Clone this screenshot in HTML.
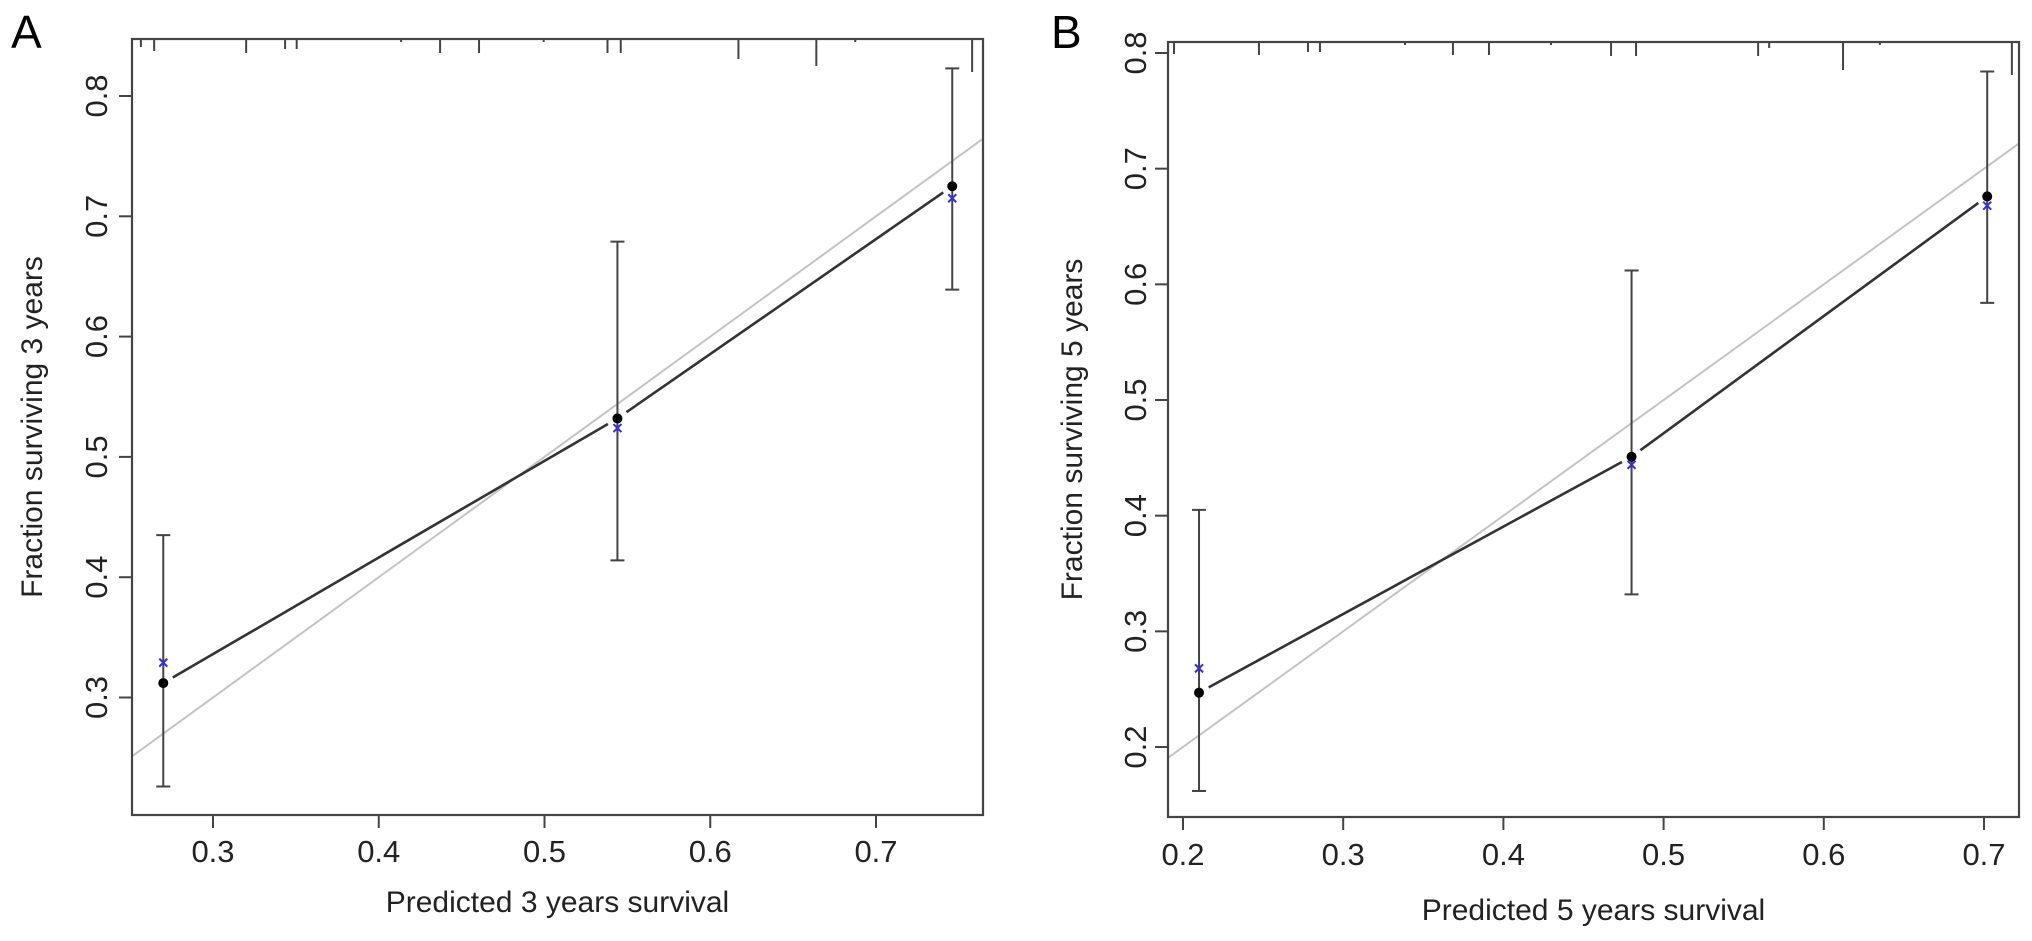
<!DOCTYPE html>
<html><head><meta charset="utf-8"><style>
html,body{margin:0;padding:0;background:#fff;}
svg{display:block;font-family:"Liberation Sans",sans-serif;}
</style></head><body>
<svg id="chart" width="2032" height="941" viewBox="0 0 2032 941" xmlns="http://www.w3.org/2000/svg"></svg>
<script>
// Panel A data (3-year)
const aPredicted = [0.270, 0.544, 0.746];
const aObserved = [0.312, 0.532, 0.725];
const aCorrected = [0.329, 0.524, 0.715];
const aCiLow = [0.226, 0.414, 0.639];
const aCiHigh = [0.435, 0.679, 0.823];
const aRug = [0.2565, 0.2645, 0.320, 0.3435, 0.3505, 0.4135, 0.437, 0.4605, 0.4995, 0.538, 0.546, 0.617, 0.664, 0.6875, 0.758];
const aRugLen = [8, 12, 14, 10, 10, 3, 14, 14, 3, 14, 14, 20, 27, 3, 33];
const aXTicks = [0.3, 0.4, 0.5, 0.6, 0.7];
const aYTicks = [0.3, 0.4, 0.5, 0.6, 0.7, 0.8];
// Panel B data (5-year)
const bPredicted = [0.210, 0.480, 0.702];
const bObserved = [0.247, 0.451, 0.676];
const bCorrected = [0.268, 0.444, 0.668];
const bCiLow = [0.162, 0.332, 0.584];
const bCiHigh = [0.405, 0.612, 0.784];
const bRug = [0.1944, 0.2474, 0.278, 0.2855, 0.3386, 0.3685, 0.391, 0.4297, 0.4672, 0.4828, 0.559, 0.5659, 0.612, 0.635, 0.7174];
const bRugLen = [12, 13, 10, 10, 3, 13, 13, 3, 14, 14, 14, 6, 28, 3, 33];
const bXTicks = [0.2, 0.3, 0.4, 0.5, 0.6, 0.7];
const bYTicks = [0.2, 0.3, 0.4, 0.5, 0.6, 0.7, 0.8];

const NS = "http://www.w3.org/2000/svg";
const svg = document.getElementById("chart");
function mk(tag, attrs, parent) {
  const e = document.createElementNS(NS, tag);
  for (const k in attrs) e.setAttribute(k, attrs[k]);
  (parent || svg).appendChild(e);
  return e;
}

function panel(cfg) {
  const g = mk("g", {});
  
  
  const X = v => cfg.x0 + (v - cfg.xv0) * cfg.xs;
  const Y = v => cfg.y0 - (v - cfg.yv0) * cfg.ys;
  const L = cfg.left, R = cfg.right, T = cfg.top, B = cfg.bottom;
  const xmin = (L - cfg.x0) / cfg.xs + cfg.xv0, xmax = (R - cfg.x0) / cfg.xs + cfg.xv0;

  const ideal = mk("line", {x1: L, y1: Y(xmin), x2: R, y2: Y(xmax), stroke: "#c4c4c4", "stroke-width": 2}, g);
  
  

  const gap = 11;
  for (let i = 0; i < cfg.pred.length - 1; i++) {
    const x1 = X(cfg.pred[i]), y1 = Y(cfg.obs[i]), x2 = X(cfg.pred[i + 1]), y2 = Y(cfg.obs[i + 1]);
    const d = Math.hypot(x2 - x1, y2 - y1), ux = (x2 - x1) / d, uy = (y2 - y1) / d;
    const seg = mk("line", {x1: x1 + ux * gap, y1: y1 + uy * gap, x2: x2 - ux * gap, y2: y2 - uy * gap, stroke: "#333", "stroke-width": 2.6}, g);
    
    
  }

  for (let i = 0; i < cfg.pred.length; i++) {
    const x = X(cfg.pred[i]);
    const eb = mk("path", {d: `M${x},${Y(cfg.lo[i])}V${Y(cfg.hi[i])}M${x - 7},${Y(cfg.lo[i])}h14M${x - 7},${Y(cfg.hi[i])}h14`, stroke: "#444", "stroke-width": 2, fill: "none"}, g);
    
    
    const yc = Y(cfg.cor[i]);
    const cx = mk("path", {d: `M${x - 4},${yc - 4}l8,8M${x + 4},${yc - 4}l-8,8`, stroke: "#3030e0", "stroke-width": 2}, g);
    
    
    const dot = mk("circle", {cx: x, cy: Y(cfg.obs[i]), r: 5, fill: "#000"}, g);
    
    
  }

  const fr = mk("rect", {x: L, y: T, width: R - L, height: B - T, fill: "none", stroke: "#444", "stroke-width": 2.2}, g);
  
  

  for (let i = 0; i < cfg.rug.length; i++) {
    const x = X(cfg.rug[i]);
    const r = mk("line", {x1: x, y1: T, x2: x, y2: T + cfg.rugLen[i], stroke: "#444", "stroke-width": 2}, g);
    
    
  }

  cfg.xt.forEach(v => {
    const x = X(v);
    const t = mk("line", {x1: x, y1: B, x2: x, y2: B + 13, stroke: "#444", "stroke-width": 2}, g);
    
    
    const lb = mk("text", {x: x, y: cfg.xLabY, "text-anchor": "middle", "font-size": 31, fill: "#222"}, g);
    lb.textContent = v.toFixed(1);
    
    
  });
  cfg.yt.forEach(v => {
    const y = Y(v);
    const t = mk("line", {x1: L, y1: y, x2: L - 13, y2: y, stroke: "#444", "stroke-width": 2}, g);
    
    
    const lb = mk("text", {x: 0, y: 0, "text-anchor": "middle", "font-size": 31, fill: "#222", transform: `translate(${cfg.yLabX},${y}) rotate(-90)`}, g);
    lb.textContent = v.toFixed(1);
    
    
  });
  const xt = mk("text", {x: (L + R) / 2, y: cfg.xTitleY, "text-anchor": "middle", "font-size": 30, fill: "#222"}, g);
  xt.textContent = cfg.xTitle;
  
  
  const yt = mk("text", {x: 0, y: 0, "text-anchor": "middle", "font-size": 30, fill: "#222", transform: `translate(${cfg.yTitleX},${(T + B) / 2}) rotate(-90)`}, g);
  yt.textContent = cfg.yTitle;
  
  
  const pl = mk("text", {x: cfg.letterX, y: 48, "font-size": 46, fill: "#000"}, g);
  pl.textContent = cfg.letter;
  
  
}

panel({name: "panel-a", letter: "A", letterX: 11,
  left: 132, right: 983, top: 39, bottom: 815,
  x0: 213, xv0: 0.3, xs: 1657.5, y0: 96, yv0: 0.8, ys: 1203,
  pred: aPredicted, obs: aObserved, cor: aCorrected, lo: aCiLow, hi: aCiHigh,
  rug: aRug, rugLen: aRugLen, xt: aXTicks, yt: aYTicks,
  xLabY: 862, yLabX: 107, xTitleY: 912, yTitleX: 42,
  xTitle: "Predicted 3 years survival", yTitle: "Fraction surviving 3 years"});

panel({name: "panel-b", letter: "B", letterX: 1051,
  left: 1168, right: 2019, top: 42, bottom: 817,
  x0: 1183, xv0: 0.2, xs: 1602, y0: 53, yv0: 0.8, ys: 1156.7,
  pred: bPredicted, obs: bObserved, cor: bCorrected, lo: bCiLow, hi: bCiHigh,
  rug: bRug, rugLen: bRugLen, xt: bXTicks, yt: bYTicks,
  xLabY: 865, yLabX: 1146, xTitleY: 920, yTitleX: 1082,
  xTitle: "Predicted 5 years survival", yTitle: "Fraction surviving 5 years"});
</script>
</body></html>
